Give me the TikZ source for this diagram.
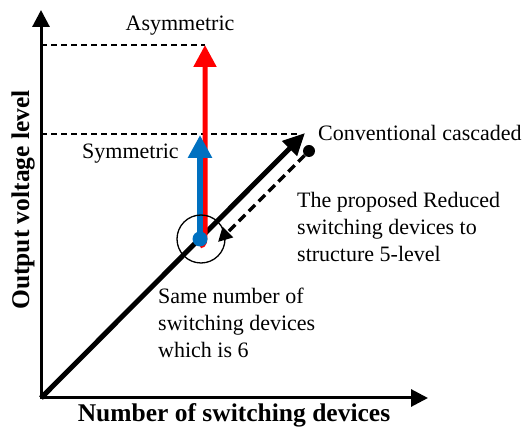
\documentclass[tikz,border=0pt]{standalone}
\usepackage{fontspec}
\setmainfont{Liberation Serif}
\usetikzlibrary{arrows.meta}
\definecolor{oblue}{RGB}{0,112,192}
\definecolor{ored}{RGB}{255,0,0}
\begin{document}
\begin{tikzpicture}[x=1pt,y=-1pt,
  lbl/.style={font=\fontsize{22}{27}\selectfont, inner sep=0pt, align=left},
  axlbl/.style={font=\fontsize{25.5}{30}\selectfont\bfseries, inner sep=0pt},
  guide/.style={line width=1.2pt, dash pattern=on 6pt off 4pt},
  axis/.style={line width=3pt, line join=miter},
  dotnode/.style={circle, inner sep=0pt}]
\useasboundingbox (0,0) rectangle (528,430);
% coordinates
\coordinate (O) at (41,398);
\coordinate (ytip) at (41,10);
\coordinate (xtip) at (428,398);
\coordinate (ctip) at (305,133);
\coordinate (dtip) at (218,242);
\coordinate (rtip) at (205,45);
\coordinate (btip) at (200,135);
\coordinate (g1) at (205,45);
\coordinate (g1s) at (41,45);
\coordinate (g2) at (300,134);
\coordinate (g2s) at (41,134);
% guide lines
\draw[guide] (g1s) -- (g1);
\draw[guide] (g2s) -- (g2);
% axes
\draw[axis, {Triangle[length=17pt,width=17pt]}-{Triangle[length=17pt,width=17pt]}] (ytip) -- (O) -- (xtip);
% conventional diagonal
\draw[line width=5pt, -{Triangle[length=22pt,width=20pt]}] (O) -- (ctip);
% red asymmetric
\draw[ored, line width=5pt, -{Triangle[length=22pt,width=22pt]}] (200,246) .. controls (205,245) and (205,241) .. (205,233) -- (rtip);
% blue symmetric
\node (bdot) [dotnode, fill=oblue, minimum size=15pt] at (200,239) {};
\draw[oblue, line width=6pt, -{Triangle[length=23pt,width=23pt]}] (bdot.center) -- (btip);
% ring
\node (ring) [circle, draw, line width=1.3pt, minimum size=48pt] at (201,239) {};
% conventional dot and dashed arrow
\node (cdot) [dotnode, fill=black, minimum size=12pt] at (309,151) {};
\draw[line width=3.5pt, dash pattern=on 9pt off 5pt, -{Triangle[length=14pt,width=14pt]}] (cdot) -- (dtip);
% texts
\node (asym) [lbl, anchor=base] at (180,31) {Asymmetric};
\node (sym) [lbl, anchor=base west] at (82,159) {Symmetric};
\node (conv) [lbl, anchor=base west] at (318,141) {Conventional cascaded};
\node (prop) [lbl, anchor=north west] at (297,192) {The proposed Reduced\\switching devices to\\structure 5-level};
\node (same) [lbl, anchor=north west] at (158,288) {Same number of\\switching devices\\which is 6};
\node (xl) [axlbl] at (234,415) {Number of switching devices};
\node (yl) [axlbl, rotate=90] at (23,200) {Output voltage level};
\end{tikzpicture}
\end{document}
